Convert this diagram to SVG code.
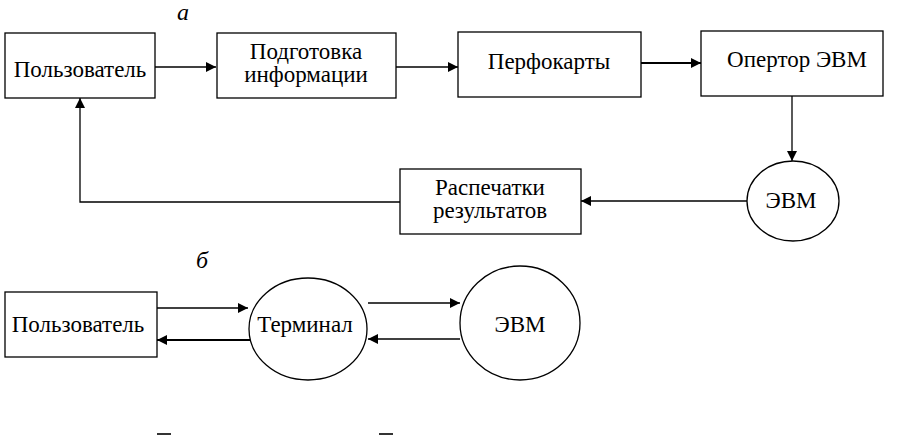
<svg xmlns="http://www.w3.org/2000/svg" width="910" height="446" viewBox="0 0 910 446">
<defs>
<marker id="ah" viewBox="0 0 10 10" refX="10" refY="5" markerWidth="10" markerHeight="10" markerUnits="userSpaceOnUse" orient="auto">
<path d="M0,0 L10,5 L0,10 Z" fill="#000"/>
</marker>
</defs>
<style>
.box{fill:#fff;stroke:#000;stroke-width:1.3}
.t{font-family:'Liberation Serif','DejaVu Serif',serif;font-size:23px;fill:#000;text-anchor:middle}
.lbl{font-family:'Liberation Serif','DejaVu Serif',serif;font-style:italic;font-size:24px;fill:#000;text-anchor:middle}
.c{fill:none;stroke:#000;stroke-width:1.3}
.thick{stroke-width:2}
</style>
<rect width="910" height="446" fill="#fff"/>
<text class="lbl" x="183" y="20">a</text>
<text class="lbl" x="202" y="268">б</text>
<g id="connectors">
<line class="c" x1="155" y1="67" x2="216" y2="67" marker-end="url(#ah)"/>
<line class="c" x1="396" y1="67" x2="458" y2="67" marker-end="url(#ah)"/>
<line class="c thick" x1="641" y1="63" x2="701" y2="63" marker-end="url(#ah)"/>
<line class="c" x1="792" y1="96" x2="792" y2="161" marker-end="url(#ah)"/>
<line class="c" x1="747" y1="201" x2="581" y2="201" marker-end="url(#ah)"/>
<polyline class="c" points="400,202 80,202 80,98" marker-end="url(#ah)"/>
<line class="c" x1="157" y1="308" x2="248" y2="308" marker-end="url(#ah)"/>
<line class="c thick" x1="250" y1="340" x2="157" y2="340" marker-end="url(#ah)"/>
<line class="c" x1="368" y1="303" x2="460" y2="303" marker-end="url(#ah)"/>
<line class="c" x1="460" y1="339" x2="368" y2="339" marker-end="url(#ah)"/>
</g>
<g id="user1">
<rect class="box" x="5" y="33" width="150" height="65"/>
<text class="t" x="80" y="77">Пользователь</text>
</g>
<g id="prep">
<rect class="box" x="217" y="33" width="179" height="65"/>
<text class="t" x="306" y="59">Подготовка</text>
<text class="t" x="306" y="82">информации</text>
</g>
<g id="cards">
<rect class="box" x="458" y="32" width="183" height="65"/>
<text class="t" x="549" y="69">Перфокарты</text>
</g>
<g id="operator">
<rect class="box" x="701" y="31" width="182" height="65"/>
<text class="t" x="797" y="67">Опертор ЭВМ</text>
</g>
<g id="evm1">
<ellipse class="box" cx="793" cy="201" rx="46" ry="40"/>
<text class="t" x="791" y="208">ЭВМ</text>
</g>
<g id="printouts">
<rect class="box" x="400" y="169" width="181" height="65"/>
<text class="t" x="490" y="195">Распечатки</text>
<text class="t" x="490" y="218">результатов</text>
</g>
<g id="user2">
<rect class="box" x="5" y="292" width="152" height="65"/>
<text class="t" x="78" y="332">Пользователь</text>
</g>
<g id="terminal">
<ellipse class="box" cx="308" cy="329" rx="59" ry="51"/>
<text class="t" x="305" y="332">Терминал</text>
</g>
<g id="evm2">
<ellipse class="box" cx="520" cy="323" rx="60" ry="57"/>
<text class="t" x="520" y="332">ЭВМ</text>
</g>
<line x1="157" y1="434" x2="171" y2="434" stroke="#000" stroke-width="1.6"/>
<line x1="379" y1="434" x2="393" y2="434" stroke="#000" stroke-width="1.6"/>
</svg>
